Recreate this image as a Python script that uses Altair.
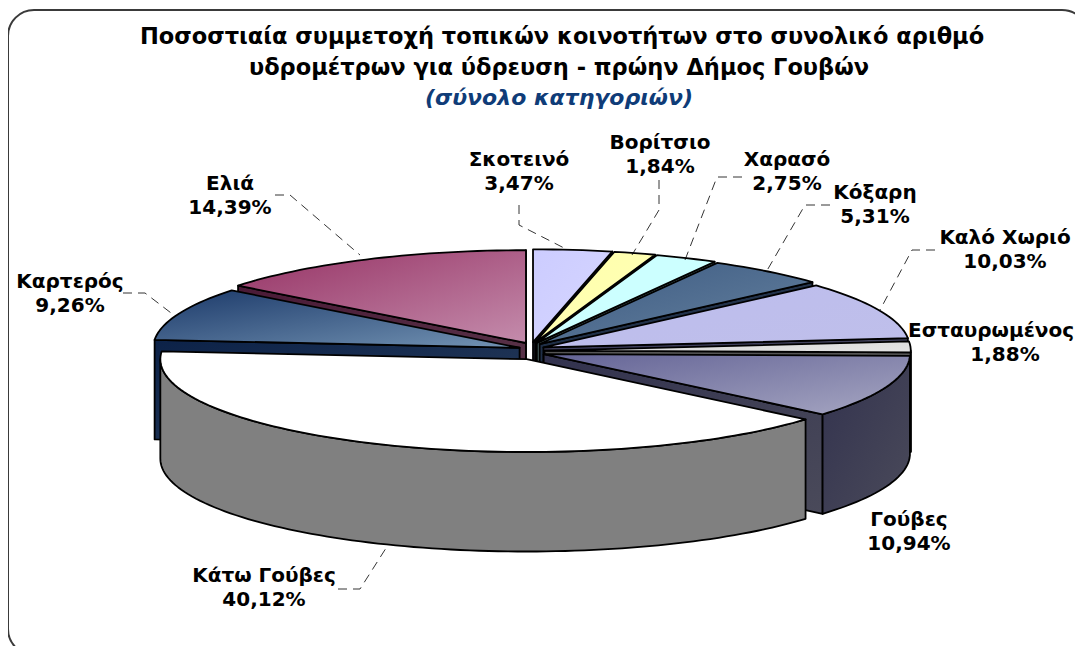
import math
import altair as alt

# ---- data (clockwise from 12 o'clock) ----
names = ["Σκοτεινό", "Βορίτσιο", "Χαρασό", "Κόξαρη", "Καλό Χωριό", "Εσταυρωμένος",
         "Γούβες", "Κάτω Γούβες", "Καρτερός", "Ελιά"]
values = [3.47, 1.84, 2.75, 5.31, 10.03, 1.88, 10.94, 40.12, 9.26, 14.39]

title_lines = ["Ποσοστιαία συμμετοχή τοπικών κοινοτήτων στο συνολικό αριθμό",
               "υδρομέτρων για ύδρευση - πρώην Δήμος Γουβών"]
subtitle = "(σύνολο κατηγοριών)"

# ---- styles ----
top_from = ["#CCCCFF", "#FFFFAA", "#CCFFFF", "#3C5A82", "#BDBDEE", "#D8D8D8",
            "#646496", "#FFFFFF", "#1C3A6A", "#963264"]
top_to = ["#D6D6FF", "#FFFFB8", "#CCFFFF", "#66829F", "#BFBFEA", "#E4E4E4",
          "#A6A6C2", "#FFFFFF", "#7494B4", "#C48CAC"]
wall_from = ["#33334F", "#66663C", "#4E6666", "#1C2C44", "#3C3C5A", "#555555",
             "#32324E", "#808080", "#0C2248", "#4A1A36"]
wall_to = ["#44445A", "#66663C", "#4E6666", "#2C3C54", "#4A4A60", "#555555",
           "#4A4A5A", "#808080", "#2A3E5C", "#5C3A4E"]

# ---- layout of the tilted, exploded pie ----
FONT = "DejaVu Sans"
CX, CY = 523.6, 343.0   # centre in svg pixels
A, B = 366.3, 92.8      # radii of the ellipse
EX, EY = 12.9, 8.9      # explosion
DEPTH = 99.5


def pt(theta, ox, oy, drop=0.0):
    return [ox + A * math.sin(theta), oy - B * math.cos(theta) + drop]


def poly_layer(ring, c0, c1, sw=1.8):
    feature = {"type": "Feature", "properties": {},
               "geometry": {"type": "Polygon", "coordinates": [ring + [ring[0]]]}}
    grad = alt.Gradient(gradient="linear", x1=0, y1=0, x2=1, y2=1,
                        stops=[alt.GradientStop(offset=0, color=c0),
                               alt.GradientStop(offset=1, color=c1)])
    return (alt.Chart(alt.Data(values=[feature]))
            .mark_geoshape(fill=grad, stroke="#000000", strokeWidth=sw, strokeJoin="round")
            .project(type="identity", scale=1, translate=[0, 0]))


total = sum(values)
slices = []
cum = 0.0
for i, v in enumerate(values):
    t0 = cum / total * 2 * math.pi
    cum += v
    t1 = cum / total * 2 * math.pi
    mid = (t0 + t1) / 2
    slices.append((i, t0, t1, CX + EX * math.sin(mid), CY - EY * math.cos(mid)))

# paint order: right side top to bottom, left side top to bottom, biggest front slice last
paint = [9, 8, 0, 1, 2, 3, 4, 5, 6, 7]
layers = []

# frame
frame = alt.Chart(alt.Data(values=[{"k": 0}])).mark_rect(
    cornerRadius=26, fill="#FFFFFF", stroke="#3A3A3A", strokeWidth=2
).encode(x=alt.value(0), x2=alt.value(1080), y=alt.value(2), y2=alt.value(647))
layers.append(frame)

for idx in paint:
    i, t0, t1, ox, oy = slices[idx]
    apex = [ox, oy]
    apex_d = [ox, oy + DEPTH]
    faces = []
    if math.sin(t0) < 0:
        p = pt(t0, ox, oy)
        faces.append([apex, p, [p[0], p[1] + DEPTH], apex_d])
    if math.sin(t1) > 0:
        p = pt(t1, ox, oy)
        faces.append([apex, p, [p[0], p[1] + DEPTH], apex_d])
    for f in faces:
        layers.append(poly_layer(f, wall_from[i], wall_to[i]))
    # outer rim, only where it faces the viewer
    lo = max(t0, math.pi / 2)
    hi = min(t1, 3 * math.pi / 2)
    if hi > lo:
        n = max(2, int((hi - lo) / math.radians(1.5)))
        arc = [lo + (hi - lo) * k / n for k in range(n + 1)]
        ring = [pt(t, ox, oy) for t in arc] + [pt(t, ox, oy, DEPTH) for t in reversed(arc)]
        layers.append(poly_layer(ring, wall_from[i], wall_to[i]))
    # top face
    n = max(2, int((t1 - t0) / math.radians(1.5)))
    arc = [t0 + (t1 - t0) * k / n for k in range(n + 1)]
    layers.append(poly_layer([apex] + [pt(t, ox, oy) for t in arc], top_from[i], top_to[i]))

# ---- leader lines (pixel layout) ----
OFF = 8
leaders = [
    [(275, 195), (290, 195), (360, 255)],
    [(123, 293), (145, 293), (175, 316)],
    [(519, 205), (519, 225), (568, 250)],
    [(659, 180), (659, 210), (632, 255)],
    [(742, 177), (717, 177), (685, 260)],
    [(830, 205), (805, 205), (765, 274)],
    [(935, 250), (912, 250), (880, 310)],
    [(338, 589), (360, 589), (388, 545)],
]
leader_rows = []
for j, line in enumerate(leaders):
    for k, (x, y) in enumerate(line):
        leader_rows.append({"g": j, "o": k, "x": x - OFF, "y": y - OFF})
layers.append(
    alt.Chart(alt.Data(values=leader_rows)).mark_line(
        stroke="#000000", strokeWidth=0.8, strokeDash=[9, 6]
    ).encode(x=alt.X("x:Q", scale=None), y=alt.Y("y:Q", scale=None),
             detail="g:N", order="o:Q")
)

# ---- slice labels ----
label_xy = {
    "Σκοτεινό": (519, 160), "Βορίτσιο": (660, 143), "Χαρασό": (787, 160), "Κόξαρη": (875, 193),
    "Καλό Χωριό": (1005, 238), "Εσταυρωμένος": (1005, 331), "Γούβες": (909, 520),
    "Κάτω Γούβες": (264, 576), "Καρτερός": (70, 282), "Ελιά": (230, 184),
}
label_rows = []
for n_, v_ in zip(names, values):
    x, y = label_xy[n_]
    # the page ends the drawing 8px before the window edge: keep the long name whole
    name_x = 991 if n_ == "Εσταυρωμένος" else x
    label_rows.append({"t": n_, "x": name_x - OFF, "y": y - OFF})
    label_rows.append({"t": f"{v_:.2f}".replace(".", ",") + "%", "x": x - OFF, "y": y + 24 - OFF})
layers.append(
    alt.Chart(alt.Data(values=label_rows)).mark_text(
        font=FONT, fontSize=20, fontWeight="bold", color="#000000", align="center", baseline="middle"
    ).encode(x=alt.X("x:Q", scale=None), y=alt.Y("y:Q", scale=None), text="t:N")
)

# ---- title ----
title_rows = [{"t": title_lines[0], "x": 562 - OFF, "y": 37 - OFF},
              {"t": title_lines[1], "x": 559 - OFF, "y": 68 - OFF}]
layers.append(
    alt.Chart(alt.Data(values=title_rows)).mark_text(
        font=FONT, fontSize=22.5, fontWeight="bold", color="#000000", align="center", baseline="middle"
    ).encode(x=alt.X("x:Q", scale=None), y=alt.Y("y:Q", scale=None), text="t:N")
)
layers.append(
    alt.Chart(alt.Data(values=[{"t": subtitle, "x": 559 - OFF, "y": 98 - OFF}])).mark_text(
        font=FONT, fontSize=22, fontWeight="bold", fontStyle="italic", color="#0F3C78",
        align="center", baseline="middle"
    ).encode(x=alt.X("x:Q", scale=None), y=alt.Y("y:Q", scale=None), text="t:N")
)

chart = alt.layer(*layers).properties(
    width=1067, height=638, padding=0, autosize=alt.AutoSizeParams(type="none")
).configure_view(stroke=None)

chart.save("out.html", embed_options={"renderer": "svg", "actions": False})
